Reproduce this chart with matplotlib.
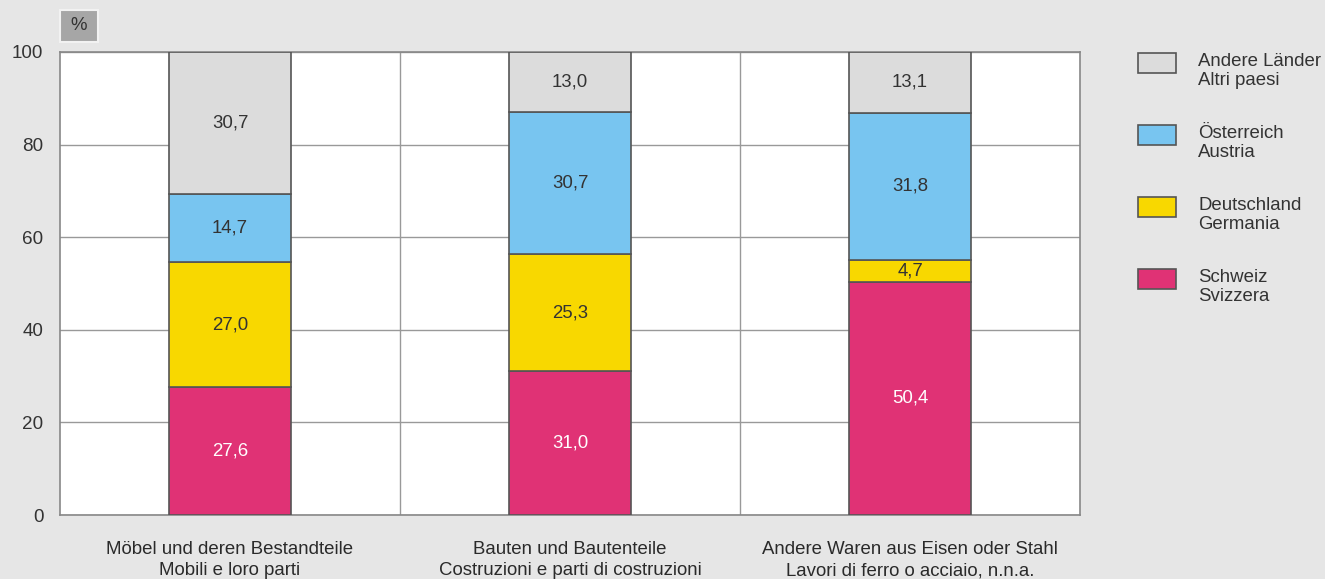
import matplotlib
matplotlib.use("Agg")
import matplotlib.pyplot as plt
from matplotlib.patches import Rectangle
import numpy as np

plt.rcParams['font.family'] = ['Liberation Sans', 'DejaVu Sans']

categories = ["Möbel und deren Bestandteile\nMobili e loro parti",
              "Bauten und Bautenteile\nCostruzioni e parti di costruzioni",
              "Andere Waren aus Eisen oder Stahl\nLavori di ferro o acciaio, n.n.a."]
series_names = ["Schweiz\nSvizzera", "Deutschland\nGermania",
                "Österreich\nAustria", "Andere Länder\nAltri paesi"]
schweiz = [27.6, 31.0, 50.4]
deutschland = [27.0, 25.3, 4.7]
oesterreich = [14.7, 30.7, 31.8]
andere = [30.7, 13.0, 13.1]
colors = ["#e03275", "#f8d800", "#78c5f0", "#dcdcdc"]
label_colors = ["white", "#333333", "#333333", "#333333"]
yticks = [0, 20, 40, 60, 80, 100]

bg = "#e6e6e6"
fs = 13.4
W, H = 1325, 579
fig = plt.figure(figsize=(13.25, 5.79), dpi=100, facecolor=bg)
ax = fig.add_axes([60/W, 1-515/H, 1020/W, 463/H])
ax.set_facecolor("white")

x = np.arange(len(categories))
bottom = np.zeros(len(categories))
for vals, col, lc, name in zip([schweiz, deutschland, oesterreich, andere], colors, label_colors, series_names):
    ax.bar(x, vals, width=0.36, bottom=bottom, color=col, edgecolor="#555555",
           linewidth=1.2, label=name, zorder=3)
    for xi, b, v in zip(x, bottom, vals):
        ax.text(xi, b + v/2, f"{v:.1f}".replace(".", ","), ha="center", va="center",
                fontsize=fs, color=lc, zorder=4)
    bottom += np.array(vals)

ax.set_xlim(-0.5, 2.5)
ax.set_ylim(0, 100)
ax.set_yticks(yticks)
ax.set_yticklabels([str(t) for t in yticks], fontsize=13.6, color="#333333")
ax.set_xticks(x)
ax.set_xticklabels(categories, fontsize=fs, color="#2a2a2a", linespacing=1.3)
ax.tick_params(axis="both", length=0)
ax.tick_params(axis="y", pad=12)
ax.tick_params(axis="x", pad=19)
ax.grid(axis="y", color="#999999", linewidth=1, zorder=1)
for xv in [0.5, 1.5]:
    ax.axvline(xv, color="#999999", linewidth=1, zorder=1)
for s in ax.spines.values():
    s.set_color("#888888")
    s.set_linewidth(1.2)

# "%" unit box
fig.patches.append(Rectangle((60/W, 1-42/H), 38/W, 32/H, transform=fig.transFigure,
                             facecolor="#a6a6a6", edgecolor="#f2f2f2", linewidth=1.5))
fig.text(79/W, 1-26/H, "%", ha="center", va="center", fontsize=fs, color="#333333")

# legend (drawn top to bottom: reversed stack order)
for i, (name, col) in enumerate(zip(series_names[::-1], colors[::-1])):
    top = 53 + i * 72
    fig.patches.append(Rectangle((1138/W, 1-(top+20)/H), 38/W, 20/H, transform=fig.transFigure,
                                 facecolor=col, edgecolor="#555555", linewidth=1.2))
    fig.text(1198/W, 1-(top+18)/H, name, ha="left", va="center", fontsize=fs,
             color="#333333", linespacing=1.15)

fig.savefig("out.png", dpi=100, facecolor=bg)
